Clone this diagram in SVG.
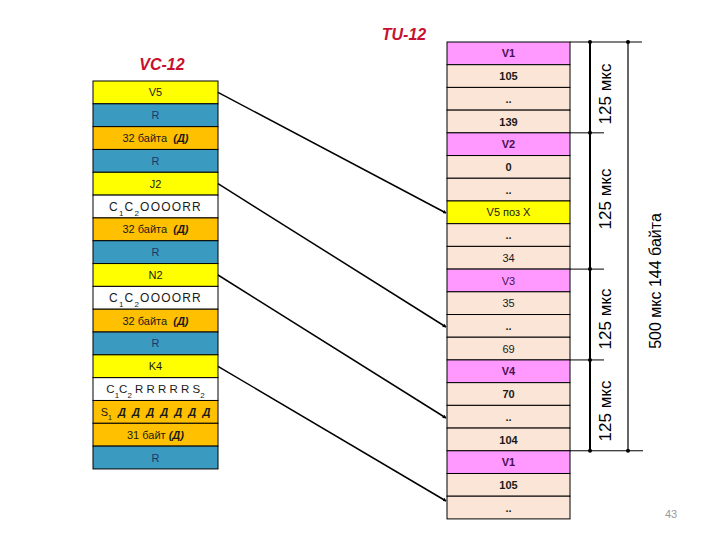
<svg xmlns="http://www.w3.org/2000/svg" width="720" height="540" viewBox="0 0 720 540">
<style>
  text { font-family: "Liberation Sans", "Noto Sans", Arial, sans-serif; white-space: pre; }
  .cell { stroke: #000; stroke-width: 1; }
  .y { fill: #ffff00; }
  .t { fill: #3b9ac0; }
  .o { fill: #ffc000; }
  .w { fill: #ffffff; }
  .p { fill: #ff99ff; }
  .k { fill: #fbe5d6; }
  .lbl { font-size: 11px; fill: #1a1a1a; text-anchor: middle; }
  .b { font-weight: bold; }
  .rl { fill: #1f3864; }
  .vl { fill: #4a1050; }
  .dd { font-weight: bold; font-style: italic; }
  .title { font-size: 16px; font-weight: bold; font-style: italic; fill: #c8102e; text-anchor: middle; }
  .dim { font-size: 17px; fill: #000; text-anchor: middle; }
  .conn { stroke: #000; stroke-width: 1.5; fill: none; marker-end: url(#arr); }
  .dl { stroke: #000; stroke-width: 1; }
</style>
<defs>
  <marker id="arr" viewBox="0 0 6 6" refX="5" refY="3" markerWidth="2.6" markerHeight="2.6" orient="auto" markerUnits="strokeWidth">
    <path d="M0,0 L6,3 L0,6 z" fill="#000"/>
  </marker>
</defs>
<rect width="720" height="540" fill="#fff"/>

<text class="title" x="404" y="40">TU-12</text>
<text class="title" x="162" y="70">VC-12</text>

<!-- VC-12 column -->
<g id="vc12">
  <g id="l0"><rect class="cell y" x="93" y="81" width="125" height="22.82"/><text class="lbl" x="155.5" y="96.4">V5</text></g>
  <g id="l1"><rect class="cell t" x="93" y="103.82" width="125" height="22.82"/><text class="lbl rl" x="155.5" y="119.2">R</text></g>
  <g id="l2"><rect class="cell o" x="93" y="126.64" width="125" height="22.82"/><text class="lbl" x="155.5" y="142.1">32 байта  <tspan class="dd">(Д)</tspan></text></g>
  <g id="l3"><rect class="cell t" x="93" y="149.46" width="125" height="22.82"/><text class="lbl rl" x="155.5" y="164.9">R</text></g>
  <g id="l4"><rect class="cell y" x="93" y="172.28" width="125" height="22.82"/><text class="lbl" x="155.5" y="187.7">J2</text></g>
  <g id="l5"><rect class="cell w" x="93" y="195.1" width="125" height="22.82"/><text class="lbl" x="155.5" y="210.6" style="font-size:12px;letter-spacing:1.2px">C<tspan baseline-shift="sub" font-size="8">1</tspan>C<tspan baseline-shift="sub" font-size="8">2</tspan>OOOORR</text></g>
  <g id="l6"><rect class="cell o" x="93" y="217.92" width="125" height="22.82"/><text class="lbl" x="155.5" y="233.4">32 байта  <tspan class="dd">(Д)</tspan></text></g>
  <g id="l7"><rect class="cell t" x="93" y="240.74" width="125" height="22.82"/><text class="lbl rl" x="155.5" y="256.2">R</text></g>
  <g id="l8"><rect class="cell y" x="93" y="263.56" width="125" height="22.82"/><text class="lbl" x="155.5" y="279">N2</text></g>
  <g id="l9"><rect class="cell w" x="93" y="286.38" width="125" height="22.82"/><text class="lbl" x="155.5" y="301.8" style="font-size:12px;letter-spacing:1.2px">C<tspan baseline-shift="sub" font-size="8">1</tspan>C<tspan baseline-shift="sub" font-size="8">2</tspan>OOOORR</text></g>
  <g id="l10"><rect class="cell o" x="93" y="309.2" width="125" height="22.82"/><text class="lbl" x="155.5" y="324.6">32 байта  <tspan class="dd">(Д)</tspan></text></g>
  <g id="l11"><rect class="cell t" x="93" y="332.02" width="125" height="22.82"/><text class="lbl rl" x="155.5" y="347.4">R</text></g>
  <g id="l12"><rect class="cell y" x="93" y="354.84" width="125" height="22.82"/><text class="lbl" x="155.5" y="370.3">K4</text></g>
  <g id="l13"><rect class="cell w" x="93" y="377.66" width="125" height="22.82"/><text class="lbl" x="155.5" y="393.1" style="font-size:11.5px">C<tspan baseline-shift="sub" font-size="8">1</tspan>C<tspan baseline-shift="sub" font-size="8">2</tspan> R R R R R S<tspan baseline-shift="sub" font-size="8">2</tspan></text></g>
  <g id="l14"><rect class="cell o" x="93" y="400.48" width="125" height="22.82"/><text class="lbl" x="155.5" y="415.9">S<tspan baseline-shift="sub" font-size="7">1</tspan>  <tspan class="dd">Д  Д  Д  Д  Д  Д  Д</tspan></text></g>
  <g id="l15"><rect class="cell o" x="93" y="423.3" width="125" height="22.82"/><text class="lbl" x="155.5" y="438.7">31 байт <tspan class="dd">(Д)</tspan></text></g>
  <g id="l16"><rect class="cell t" x="93" y="446.12" width="125" height="22.82"/><text class="lbl rl" x="155.5" y="461.5">R</text></g>
</g>

<!-- TU-12 column -->
<g id="tu12">
  <g id="r0"><rect class="cell p" x="447" y="42" width="123" height="22.71"/><text class="lbl b vl" x="508.5" y="57.4">V1</text></g>
  <g id="r1"><rect class="cell k" x="447" y="64.71" width="123" height="22.71"/><text class="lbl b" x="508.5" y="80.1">105</text></g>
  <g id="r2"><rect class="cell k" x="447" y="87.42" width="123" height="22.71"/><text class="lbl b" x="508.5" y="102.8">..</text></g>
  <g id="r3"><rect class="cell k" x="447" y="110.13" width="123" height="22.71"/><text class="lbl b" x="508.5" y="125.5">139</text></g>
  <g id="r4"><rect class="cell p" x="447" y="132.84" width="123" height="22.71"/><text class="lbl b vl" x="508.5" y="148.2">V2</text></g>
  <g id="r5"><rect class="cell k" x="447" y="155.55" width="123" height="22.71"/><text class="lbl b" x="508.5" y="170.9">0</text></g>
  <g id="r6"><rect class="cell k" x="447" y="178.26" width="123" height="22.71"/><text class="lbl b" x="508.5" y="193.6">..</text></g>
  <g id="r7"><rect class="cell y" x="447" y="200.97" width="123" height="22.71"/><text class="lbl" x="508.5" y="216.3">V5 поз X</text></g>
  <g id="r8"><rect class="cell k" x="447" y="223.68" width="123" height="22.71"/><text class="lbl b" x="508.5" y="239">..</text></g>
  <g id="r9"><rect class="cell k" x="447" y="246.39" width="123" height="22.71"/><text class="lbl" x="508.5" y="261.8">34</text></g>
  <g id="r10"><rect class="cell p" x="447" y="269.1" width="123" height="22.71"/><text class="lbl vl" x="508.5" y="284.5">V3</text></g>
  <g id="r11"><rect class="cell k" x="447" y="291.81" width="123" height="22.71"/><text class="lbl" x="508.5" y="307.2">35</text></g>
  <g id="r12"><rect class="cell k" x="447" y="314.52" width="123" height="22.71"/><text class="lbl b" x="508.5" y="329.9">..</text></g>
  <g id="r13"><rect class="cell k" x="447" y="337.23" width="123" height="22.71"/><text class="lbl" x="508.5" y="352.6">69</text></g>
  <g id="r14"><rect class="cell p" x="447" y="359.94" width="123" height="22.71"/><text class="lbl b vl" x="508.5" y="375.3">V4</text></g>
  <g id="r15"><rect class="cell k" x="447" y="382.65" width="123" height="22.71"/><text class="lbl b" x="508.5" y="398">70</text></g>
  <g id="r16"><rect class="cell k" x="447" y="405.36" width="123" height="22.71"/><text class="lbl b" x="508.5" y="420.7">..</text></g>
  <g id="r17"><rect class="cell k" x="447" y="428.07" width="123" height="22.71"/><text class="lbl b" x="508.5" y="443.5">104</text></g>
  <g id="r18"><rect class="cell p" x="447" y="450.78" width="123" height="22.71"/><text class="lbl b vl" x="508.5" y="466.2">V1</text></g>
  <g id="r19"><rect class="cell k" x="447" y="473.49" width="123" height="22.71"/><text class="lbl b" x="508.5" y="488.9">105</text></g>
  <g id="r20"><rect class="cell k" x="447" y="496.2" width="123" height="22.71"/><text class="lbl b" x="508.5" y="511.6">..</text></g>
</g>

<!-- connectors -->
<g id="connectors">
  <line class="conn" x1="218" y1="92.4" x2="446" y2="213"/>
  <line class="conn" x1="218" y1="183.7" x2="446" y2="327"/>
  <line class="conn" x1="218" y1="275" x2="446" y2="418"/>
  <line class="conn" x1="218" y1="366.3" x2="446" y2="501"/>
</g>

<!-- dimension lines -->
<g id="dimensions">
  <line class="dl" x1="570" y1="42" x2="642" y2="42"/>
  <line class="dl" x1="570" y1="132.84" x2="604" y2="132.84"/>
  <line class="dl" x1="570" y1="269.1" x2="604" y2="269.1"/>
  <line class="dl" x1="570" y1="359.94" x2="604" y2="359.94"/>
  <line class="dl" x1="570" y1="450.78" x2="643" y2="450.78"/>
  <line x1="590" y1="42" x2="590" y2="450.78" stroke="#000" stroke-width="2"/>
  <line x1="628" y1="42" x2="628" y2="450.78" stroke="#000" stroke-width="1.2"/>
  <g fill="#000">
    <circle cx="590" cy="42" r="2"/>
    <circle cx="590" cy="132.84" r="2"/>
    <circle cx="590" cy="269.1" r="2"/>
    <circle cx="590" cy="359.94" r="2"/>
    <circle cx="590" cy="450.78" r="2"/>
    <circle cx="628" cy="42" r="2"/>
    <circle cx="628" cy="450.78" r="2"/>
  </g>
  <text class="dim" transform="translate(611,94) rotate(-90)">125 мкс</text>
  <text class="dim" transform="translate(611,199) rotate(-90)">125 мкс</text>
  <text class="dim" transform="translate(611,319) rotate(-90)">125 мкс</text>
  <text class="dim" transform="translate(611,411) rotate(-90)">125 мкс</text>
  <text class="dim" style="font-size:16px" transform="translate(661,281) rotate(-90)">500 мкс 144 байта</text>
</g>

<text x="671" y="518" font-size="11" fill="#999" text-anchor="middle" font-family="Liberation Sans, sans-serif">43</text>
</svg>
